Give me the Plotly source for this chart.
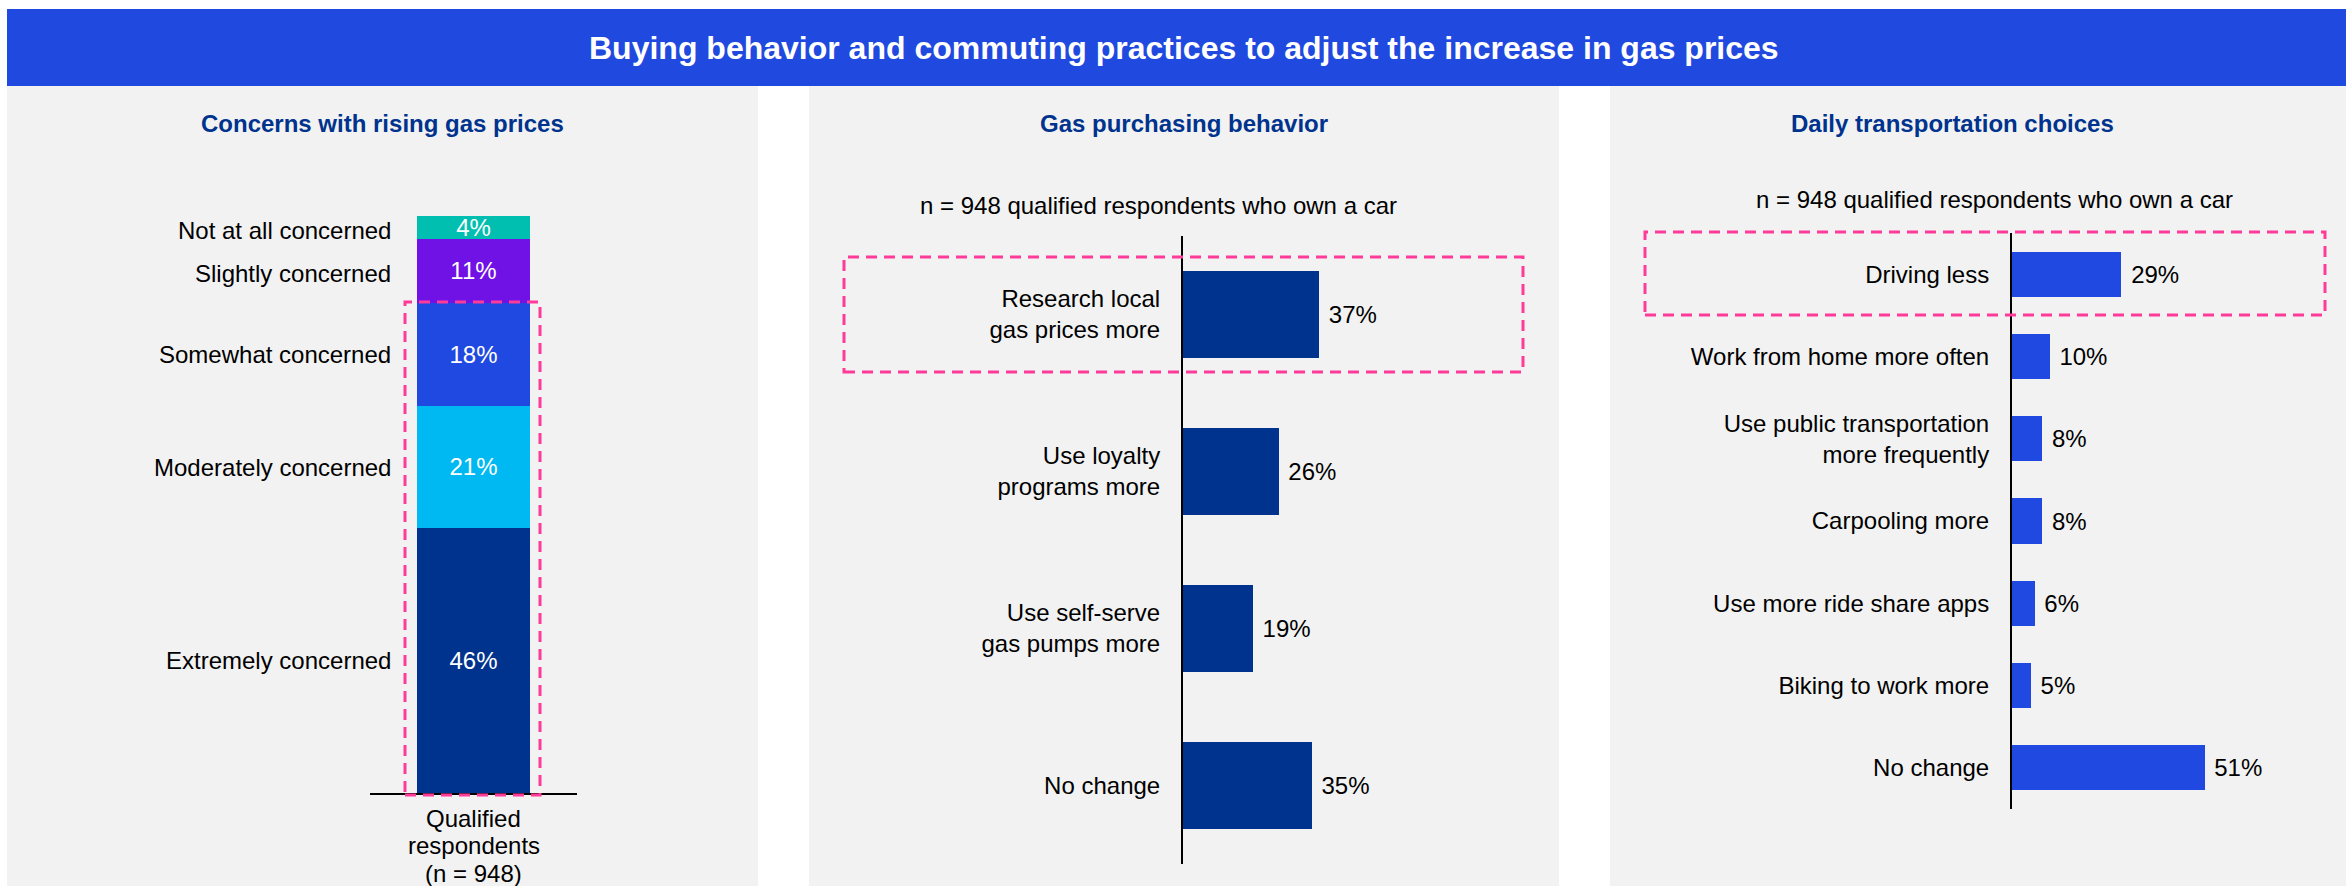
import plotly.graph_objects as go

# ---- data ----
concern_levels = ["Extremely concerned", "Moderately concerned", "Somewhat concerned",
                  "Slightly concerned", "Not at all concerned"]
concern_values = [46, 21, 18, 11, 4]
concern_colors = ["#00338D", "#00B9F2", "#1F49E0", "#7012E6", "#00BFB0"]
concern_group = ["Qualified respondents (n = 948)"]
concern_group_lines = ["Qualified", "respondents", "(n = 948)"]

purchase_labels = ["Research local<br>gas prices more", "Use loyalty<br>programs more",
                   "Use self-serve<br>gas pumps more", "No change"]
purchase_values = [37, 26, 19, 35]

transport_labels = ["Driving less", "Work from home more often",
                    "Use public transportation<br>more frequently", "Carpooling more",
                    "Use more ride share apps", "Biking to work more", "No change"]
transport_values = [29, 10, 8, 8, 6, 5, 51]

title_text = "Buying behavior and commuting practices to adjust the increase in gas prices"
panel_titles = ["Concerns with rising gas prices", "Gas purchasing behavior",
                "Daily transportation choices"]
sample_note = "n = 948 qualified respondents who own a car"

# ---- canvas helpers ----
W, H = 2346, 886
FONT = "Arial, Liberation Sans, sans-serif"
NAVY = "#00338D"
BLUE = "#1F49E0"
PINK = "#FF3B9A"
PANEL_BG = "#F2F2F2"


def px(x):
    return x / W


def py(y):
    return 1 - y / H


fig = go.Figure()

# Panel 1: stacked concern levels
for level, val, col in zip(concern_levels, concern_values, concern_colors):
    fig.add_trace(go.Bar(
        x=concern_group, y=[val], name=level, marker=dict(color=col, line=dict(width=0)),
        texttemplate="%{y}%", textposition="inside", insidetextanchor="middle",
        constraintext="none", textfont=dict(color="white", size=24, family=FONT),
        hoverinfo="skip", xaxis="x", yaxis="y",
    ))

# Panel 2: gas purchasing behavior
fig.add_trace(go.Bar(
    x=purchase_values, y=purchase_labels, orientation="h",
    marker=dict(color=NAVY, line=dict(width=0)),
    texttemplate="\u00a0%{x}%", textposition="outside", constraintext="none",
    textfont=dict(color="black", size=24, family=FONT), cliponaxis=False,
    hoverinfo="skip", xaxis="x2", yaxis="y2",
))

# Panel 3: daily transportation choices
fig.add_trace(go.Bar(
    x=transport_values, y=transport_labels, orientation="h",
    marker=dict(color=BLUE, line=dict(width=0)),
    texttemplate="\u00a0%{x}%", textposition="outside", constraintext="none",
    textfont=dict(color="black", size=24, family=FONT), cliponaxis=False,
    hoverinfo="skip", xaxis="x3", yaxis="y3",
))

dash_line = dict(color=PINK, width=3, dash="11px,7px")
shapes = [
    # header band
    dict(type="rect", xref="paper", yref="paper", x0=px(7), x1=1, y0=py(86), y1=py(9),
         fillcolor="#2049E0", line=dict(width=0), layer="below"),
    # panel backgrounds
    dict(type="rect", xref="paper", yref="paper", x0=px(7), x1=px(758), y0=0, y1=py(86),
         fillcolor=PANEL_BG, line=dict(width=0), layer="below"),
    dict(type="rect", xref="paper", yref="paper", x0=px(809), x1=px(1559), y0=0, y1=py(86),
         fillcolor=PANEL_BG, line=dict(width=0), layer="below"),
    dict(type="rect", xref="paper", yref="paper", x0=px(1610), x1=1, y0=0, y1=py(86),
         fillcolor=PANEL_BG, line=dict(width=0), layer="below"),
    # highlight boxes
    dict(type="rect", xref="paper", yref="paper", x0=px(405), x1=px(540), y0=py(795), y1=py(302),
         line=dash_line, layer="above"),
    dict(type="rect", xref="paper", yref="paper", x0=px(844), x1=px(1523), y0=py(372), y1=py(257),
         line=dash_line, layer="above"),
    dict(type="rect", xref="paper", yref="paper", x0=px(1645), x1=px(2325), y0=py(315), y1=py(232),
         line=dash_line, layer="above"),
]

annotations = [
    dict(text=f"<b>{title_text}</b>", xref="paper", yref="paper", x=px(1184), y=py(47.5),
         xanchor="center", yanchor="middle", showarrow=False,
         font=dict(color="white", size=32, family=FONT)),
]
for name, cx in zip(panel_titles, [382, 1184, 1953]):
    annotations.append(dict(text=f"<b>{name}</b>", xref="paper", yref="paper", x=px(cx), y=py(123),
                            xanchor="center", yanchor="middle", showarrow=False,
                            font=dict(color=NAVY, size=24, family=FONT)))
for cx, cy in [(1158, 206), (1994, 199)]:
    annotations.append(dict(text=sample_note, xref="paper", yref="paper", x=px(cx), y=py(cy),
                            xanchor="center", yanchor="middle", showarrow=False,
                            font=dict(color="black", size=24, family=FONT)))

# level names beside the stacked segments; the two thin top segments get a small
# downward nudge so their names do not crowd each other
label_nudge = [0, 0, 0, 3, 3]
running = 0
for level, val, nudge in zip(concern_levels, concern_values, label_nudge):
    mid = running + val / 2
    running += val
    annotations.append(dict(text=level, xref="paper", yref="y", x=px(393), y=mid,
                            xanchor="right", yanchor="middle", showarrow=False,
                            yshift=-nudge,
                            font=dict(color="black", size=24, family=FONT)))

# group name under the stacked column, set line by line with a tight leading
for i, line in enumerate(concern_group_lines):
    annotations.append(dict(text=line, xref="x", yref="paper", x=concern_group[0],
                            y=py(818 + 27.5 * i), xanchor="center", yanchor="middle",
                            showarrow=False, font=dict(color="black", size=24, family=FONT)))

fig.update_layout(
    width=W, height=H, margin=dict(l=0, r=0, t=0, b=0, autoexpand=False),
    paper_bgcolor="white", plot_bgcolor="rgba(0,0,0,0)",
    barmode="stack", bargap=0.45, showlegend=False,
    font=dict(family=FONT, size=24, color="black"),
    shapes=shapes, annotations=annotations,
    xaxis=dict(domain=[px(370), px(577)], type="category", range=[-0.5, 0.5],
               showline=True, linecolor="black", linewidth=2, ticks="",
               showgrid=False, zeroline=False, showticklabels=False,
               anchor="y", automargin=False, fixedrange=True),
    yaxis=dict(domain=[py(793), py(216)], range=[0, 100], visible=False, anchor="x",
               automargin=False, fixedrange=True),
    xaxis2=dict(domain=[px(1183), px(1551)], range=[0, 100], visible=False, anchor="y2",
                automargin=False, fixedrange=True),
    yaxis2=dict(domain=[py(864), py(236)], type="category", autorange="reversed",
                showline=True, linecolor="black", linewidth=2, ticks="", showgrid=False,
                ticklabelstandoff=16, tickfont=dict(size=24, color="black"), anchor="x2",
                automargin=False, fixedrange=True),
    xaxis3=dict(domain=[px(2012), px(2314)], range=[0, 80], visible=False, anchor="y3",
                automargin=False, fixedrange=True),
    yaxis3=dict(domain=[py(809), py(233)], type="category", autorange="reversed",
                showline=True, linecolor="black", linewidth=2, ticks="", showgrid=False,
                ticklabelstandoff=16, tickfont=dict(size=24, color="black"), anchor="x3",
                automargin=False, fixedrange=True),
)

fig.write_html("out.html", config={"displayModeBar": False})
